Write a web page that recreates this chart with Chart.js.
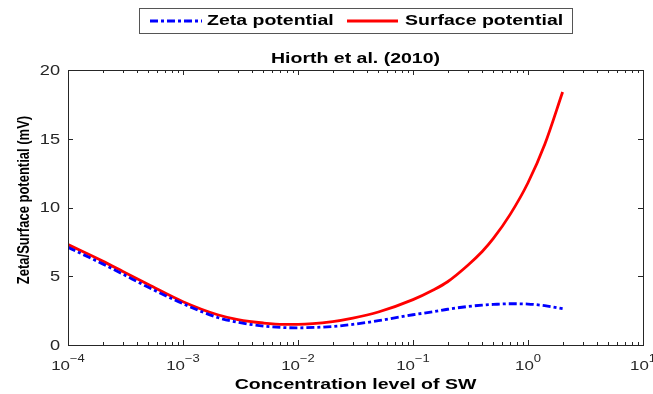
<!DOCTYPE html>
<html>
<head>
<meta charset="utf-8">
<title>Hiorth et al. (2010)</title>
<script src="https://cdn.jsdelivr.net/npm/chart.js@4.4.1/dist/chart.umd.min.js"></script>
<style>
  html, body { margin: 0; padding: 0; background: #fff; }
</style>
</head>
<body>
<canvas id="grafico" width="653" height="394"></canvas>
<script>
// concentracion de agua de mar (SW) y potenciales en mV
const concentracion = [1e-4, 2e-4, 3e-4, 5e-4, 1e-3, 2e-3, 3e-3, 5e-3, 7.5e-3, 1e-2, 2e-2, 3e-2, 5e-2, 0.1, 0.15, 0.2, 0.3, 0.4, 0.5, 0.7, 1, 1.4, 2];
const potencialZeta = [7.1, 5.9, 5.15, 4.2, 3.0, 2.0, 1.65, 1.38, 1.27, 1.25, 1.35, 1.5, 1.77, 2.2, 2.42, 2.6, 2.8, 2.9, 2.95, 3.0, 2.98, 2.86, 2.65];
const potencialSuperficie = [7.3, 6.1, 5.35, 4.4, 3.15, 2.2, 1.85, 1.6, 1.5, 1.5, 1.7, 1.95, 2.4, 3.3, 4.0, 4.6, 5.8, 6.8, 7.75, 9.5, 11.8, 14.6, 18.4];

const exponentesX = [-4, -3, -2, -1, 0, 1];
const ticksY = [0, 5, 10, 15, 20];

const titulo = "Hiorth et al. (2010)";
const tituloX = "Concentration level of SW";
const tituloY = "Zeta/Surface potential (mV)";
const leyenda = ["Zeta potential", "Surface potential"];

const AZUL = "#0000ff";
const ROJO = "#ff0000";
const EJE = "#262626";
const FUENTE = "'Liberation Sans', Arial, sans-serif";
const ESTIRAR = 1.3; // el texto de la figura sale ensanchado

const puntos = (ys) => concentracion.map((c, i) => ({ x: c, y: ys[i] }));

// texto ensanchado en horizontal
function texto(ctx, str, x, y, font, align) {
    ctx.save();
    ctx.translate(x, y);
    ctx.scale(ESTIRAR, 1);
    ctx.font = font;
    ctx.textAlign = align;
    ctx.fillText(str, 0, 0);
    ctx.restore();
}

/**
 * Caja de ejes estilo MATLAB: marco, ticks hacia dentro, etiquetas y leyenda
 */
const ejesMatlab = {
    id: "ejesMatlab",
    afterDraw(chart) {
        const ctx = chart.ctx;
        const { left, right, top, bottom } = chart.chartArea;
        const sx = chart.scales.x;
        const sy = chart.scales.y;

        ctx.save();
        ctx.strokeStyle = EJE;
        ctx.lineWidth = 1;
        ctx.strokeRect(left + 0.5, top + 0.5, right - left, bottom - top);

        // ticks del eje x (mayores y menores), abajo y arriba
        ctx.beginPath();
        exponentesX.forEach(e => {
            for (let m = 1; m <= 9; m++) {
                if (m > 1 && e === 1) continue;
                const px = Math.round(sx.getPixelForValue(m * Math.pow(10, e))) + 0.5;
                const largo = m === 1 ? 5 : 3;
                ctx.moveTo(px, bottom);
                ctx.lineTo(px, bottom - largo);
                ctx.moveTo(px, top);
                ctx.lineTo(px, top + largo);
            }
        });
        // ticks del eje y, izquierda y derecha
        ticksY.forEach(t => {
            const py = Math.round(sy.getPixelForValue(t)) + 0.5;
            ctx.moveTo(left, py);
            ctx.lineTo(left + 5, py);
            ctx.moveTo(right, py);
            ctx.lineTo(right - 5, py);
        });
        ctx.stroke();

        // etiquetas del eje y
        ctx.fillStyle = EJE;
        ctx.textBaseline = "middle";
        ticksY.forEach(t => {
            texto(ctx, String(t), left - 8, sy.getPixelForValue(t) + 1, "14px " + FUENTE, "right");
        });

        // etiquetas del eje x con exponente
        ctx.textBaseline = "alphabetic";
        exponentesX.forEach(e => {
            const px = sx.getPixelForValue(Math.pow(10, e));
            const exp = String(e).replace("-", "\u2212");
            ctx.font = "13px " + FUENTE;
            const wBase = ctx.measureText("10").width * ESTIRAR;
            ctx.font = "10px " + FUENTE;
            const wExp = ctx.measureText(exp).width * ESTIRAR;
            const x0 = px - (wBase + wExp) / 2;
            texto(ctx, "10", x0, bottom + 25, "13px " + FUENTE, "left");
            texto(ctx, exp, x0 + wBase, bottom + 17, "10px " + FUENTE, "left");
        });

        // titulos
        ctx.fillStyle = "#000";
        ctx.textBaseline = "middle";
        texto(ctx, titulo, (left + right) / 2, 59, "bold 15px " + FUENTE, "center");
        texto(ctx, tituloX, (left + right) / 2, 385, "bold 15px " + FUENTE, "center");
        ctx.save();
        ctx.translate(24, 200);
        ctx.scale(ESTIRAR, 1);
        ctx.rotate(-Math.PI / 2);
        ctx.font = "bold 13px " + FUENTE;
        ctx.textAlign = "center";
        ctx.fillText(tituloY, 0, 0);
        ctx.restore();

        // leyenda con marco
        ctx.fillStyle = "#fff";
        ctx.fillRect(139, 8, 433, 25);
        ctx.strokeStyle = "#555";
        ctx.strokeRect(139.5, 8.5, 433, 25);
        const yLey = 21;
        ctx.lineWidth = 2.8;
        ctx.strokeStyle = AZUL;
        ctx.setLineDash([8, 3, 3, 3]);
        ctx.beginPath();
        ctx.moveTo(150, yLey);
        ctx.lineTo(202, yLey);
        ctx.stroke();
        ctx.setLineDash([]);
        ctx.strokeStyle = ROJO;
        ctx.beginPath();
        ctx.moveTo(347, yLey);
        ctx.lineTo(398, yLey);
        ctx.stroke();
        ctx.fillStyle = "#000";
        texto(ctx, leyenda[0], 207, yLey, "bold 15px " + FUENTE, "left");
        texto(ctx, leyenda[1], 405, yLey, "bold 15px " + FUENTE, "left");
        ctx.restore();
    }
};

new Chart(document.getElementById("grafico"), {
    type: "line",
    data: {
        datasets: [
            {
                label: leyenda[0],
                data: puntos(potencialZeta),
                borderColor: AZUL,
                borderWidth: 2.8,
                borderDash: [8, 3, 3, 3],
                pointRadius: 0,
                cubicInterpolationMode: "monotone"
            },
            {
                label: leyenda[1],
                data: puntos(potencialSuperficie),
                borderColor: ROJO,
                borderWidth: 2.8,
                pointRadius: 0,
                cubicInterpolationMode: "monotone"
            }
        ]
    },
    options: {
        responsive: false,
        animation: false,
        layout: { padding: { left: 68, right: 10, top: 70, bottom: 49 } },
        plugins: {
            legend: { display: false },
            title: { display: false },
            tooltip: { enabled: false }
        },
        scales: {
            x: { type: "logarithmic", min: 1e-4, max: 10, display: false },
            y: { type: "linear", min: 0, max: 20, display: false }
        }
    },
    plugins: [ejesMatlab]
});
</script>
</body>
</html>
